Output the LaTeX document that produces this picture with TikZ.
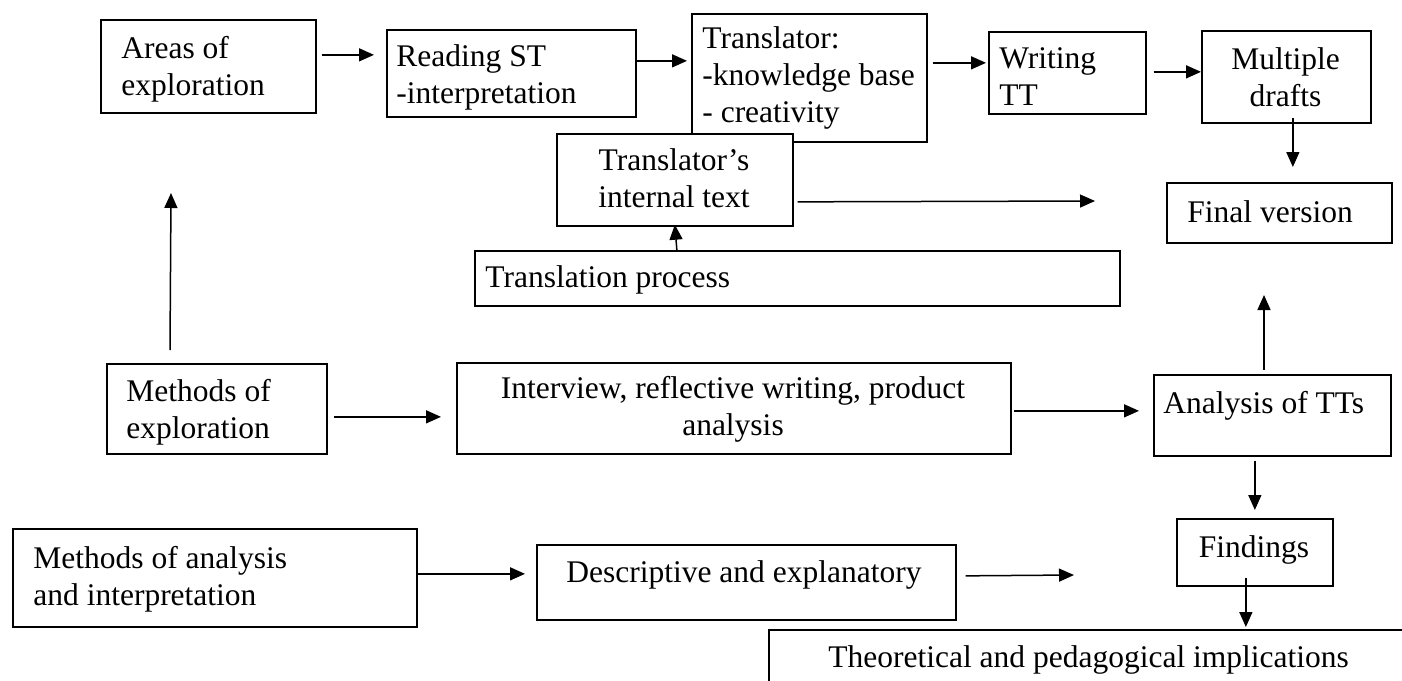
\documentclass[tikz,border=0pt]{standalone}
\usepackage{fontspec}
\setmainfont{Liberation Serif}
\usetikzlibrary{arrows.meta,calc}
\begin{document}
\begin{tikzpicture}[x=0.5pt,y=-0.5pt,
  box/.style={draw,line width=0.85pt,fill=white,inner sep=0pt,anchor=north west},
  lbl/.style={inner sep=0pt,align=left,font=\fontsize{15.75pt}{18.5pt}\selectfont},
  clbl/.style={inner sep=0pt,align=center,font=\fontsize{15.75pt}{18.5pt}\selectfont},
  arr/.style={line width=0.75pt,-{Triangle[length=7.5pt,width=6.5pt]}}]

\clip (0,0) rectangle (1402,680);
\fill[white] (0,0) rectangle (1402,680);

% top row
\node[box,minimum width=107.5pt,minimum height=46.5pt] (ar) at (100,19) {};
\node[box,minimum width=124.5pt,minimum height=43.5pt] (rd) at (386,29) {};
\node[box,minimum width=117.5pt,minimum height=64pt] (tr) at (691,13) {};
\node[box,minimum width=118pt,minimum height=46pt] (it) at (556,133) {};
\node[box,minimum width=322.5pt,minimum height=27.5pt] (tp) at (474,250) {};
\node[box,minimum width=78.5pt,minimum height=41pt] (wt) at (988,31) {};
\node[box,minimum width=84.5pt,minimum height=46pt] (md) at (1201,30) {};
\node[box,minimum width=112.5pt,minimum height=30pt] (fv) at (1166,182) {};

% middle row
\node[box,minimum width=110pt,minimum height=45pt] (me) at (106,363) {};
\node[box,minimum width=277pt,minimum height=45.5pt] (iv) at (456,362) {};
\node[box,minimum width=118.5pt,minimum height=40.5pt] (at) at (1153,374) {};

% bottom row
\node[box,minimum width=78pt,minimum height=33.5pt] (fd) at (1176,518) {};
\node[box,minimum width=202pt,minimum height=49pt] (ma) at (12,528) {};
\node[box,minimum width=209.5pt,minimum height=37.5pt] (de) at (536,544) {};
\node[box,minimum width=326pt,minimum height=35.5pt] (th) at (768,629) {};

% labels (multi-line labels are placed by the baseline of their last line)
\node[lbl,anchor=base west] (art) at (121,95) {Areas of\\exploration};
\node[lbl,anchor=base west] (rdt) at (396,103) {Reading ST\\-interpretation};
\node[lbl,anchor=base west] (trt) at (702,122) {Translator:\\-knowledge base\\- creativity};
\node[clbl,anchor=base] (itt) at (674,207) {Translator’s\\internal text};
\node[lbl,anchor=base west] (tpt) at (485,287) {Translation process};
\node[lbl,anchor=base west] (wtt) at (999,105) {Writing\\TT};
\node[clbl,anchor=base] (mdt) at (1285.5,106) {Multiple\\drafts};
\node[lbl,anchor=base west] (fvt) at (1187,222) {Final version};
\node[lbl,anchor=base west] (met) at (126,438) {Methods of\\exploration};
\node[clbl,anchor=base] (ivt) at (733,435) {Interview, reflective writing, product\\analysis};
\node[lbl,anchor=base west] (att) at (1163,413) {Analysis of TTs};
\node[clbl,anchor=base] (fdt) at (1254,557) {Findings};
\node[lbl,anchor=base west] (mat) at (33,605) {Methods of analysis\\and interpretation};
\node[lbl,anchor=base west] (det) at (566,582) {Descriptive and explanatory};
\node[lbl,anchor=base west] (tht) at (828,667) {Theoretical and pedagogical implications};

% free ends of open connectors
\coordinate (itend) at (1095,201);
\coordinate (upAfrom) at (170,350);
\coordinate (upAto) at (171,193);
\coordinate (upBfrom) at (1264,370);
\coordinate (upBto) at (1264,295);
\coordinate (deend) at (1074,575);

% connectors
\draw[arr] ($(ar.east)+(5,-11.5)$) -- ($(rd.west)+(-12,-18.5)$);
\draw[arr] ($(rd.east)+(0,-12.5)$) -- ($(tr.west)+(-4,-17)$);
\draw[arr] ($(tr.east)+(5,-15)$) -- ($(wt.west)+(-2,-10)$);
\draw[arr] ($(wt.east)+(7,-1)$) -- ($(md.west)+(0,-5)$);
\draw[arr] ($(md.south)+(6.5,-6)$) -- ($(fv.north)+(13.5,-15)$);
\draw[arr] ($(it.east)+(4,22)$) -- (itend);
\draw[arr] ($(tp.north)+(-120.5,0)$) -- ($(it.south)+(0,-2)$);
\draw[arr] (upAfrom) -- (upAto);
\draw[arr] ($(me.east)+(6,8)$) -- ($(iv.west)+(-15,8.5)$);
\draw[arr] ($(iv.east)+(2,2.5)$) -- ($(at.west)+(-14,-4.5)$);
\draw[arr] (upBfrom) -- (upBto);
\draw[arr] ($(at.south)+(-17.5,4)$) -- ($(fd.north)+(0,-8)$);
\draw[arr] ($(ma.east)+(0,-4)$) -- ($(de.west)+(-11,-8.5)$);
\draw[arr] ($(de.east)+(9,-6.5)$) -- (deend);
\draw[arr] ($(fd.south)+(-9,-9)$) -- ($(th.north)+(151,-2)$);
\end{tikzpicture}
\end{document}
